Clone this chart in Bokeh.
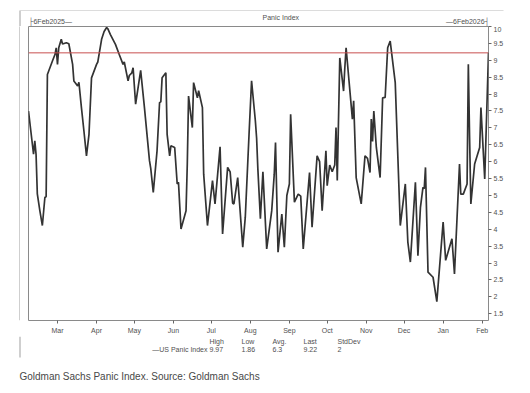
import pandas as pd
from bokeh.plotting import figure
from bokeh.layouts import column, row
from bokeh.models import (Range1d, Span, Label, FixedTicker, DatetimeTickFormatter,
                          CustomJSTickFormatter, BoxAnnotation, ColumnDataSource)
from bokeh.embed import file_html
from bokeh.resources import INLINE

# ---------------- data ----------------
dates = [
    "2025-02-06", "2025-02-10", "2025-02-11", "2025-02-12", "2025-02-13", "2025-02-15",
    "2025-02-17", "2025-02-19", "2025-02-20", "2025-02-21", "2025-02-25", "2025-02-27",
    "2025-02-28", "2025-03-01", "2025-03-02", "2025-03-04", "2025-03-05", "2025-03-08",
    "2025-03-10", "2025-03-13", "2025-03-14", "2025-03-17", "2025-03-18", "2025-03-20",
    "2025-03-22", "2025-03-24", "2025-03-26", "2025-03-28", "2025-04-01", "2025-04-02",
    "2025-04-05", "2025-04-07", "2025-04-09", "2025-04-10", "2025-04-12", "2025-04-16",
    "2025-04-19", "2025-04-22", "2025-04-23", "2025-04-26", "2025-04-27", "2025-04-29",
    "2025-04-30", "2025-05-02", "2025-05-06", "2025-05-09", "2025-05-13", "2025-05-14",
    "2025-05-16", "2025-05-19", "2025-05-21", "2025-05-22", "2025-05-23", "2025-05-26",
    "2025-05-27", "2025-05-29", "2025-05-30", "2025-06-02", "2025-06-04", "2025-06-05",
    "2025-06-07", "2025-06-11", "2025-06-12", "2025-06-13", "2025-06-16", "2025-06-17",
    "2025-06-20", "2025-06-21", "2025-06-24", "2025-06-25", "2025-06-28", "2025-07-02",
    "2025-07-04", "2025-07-08", "2025-07-10", "2025-07-14", "2025-07-16", "2025-07-18",
    "2025-07-19", "2025-07-22", "2025-07-26", "2025-07-28", "2025-07-31", "2025-08-02",
    "2025-08-05", "2025-08-06", "2025-08-07", "2025-08-09", "2025-08-11", "2025-08-14",
    "2025-08-18", "2025-08-20", "2025-08-21", "2025-08-23", "2025-08-26", "2025-08-28",
    "2025-08-30", "2025-09-01", "2025-09-02", "2025-09-05", "2025-09-08", "2025-09-10",
    "2025-09-12", "2025-09-17", "2025-09-19", "2025-09-23", "2025-09-25", "2025-09-27",
    "2025-09-30", "2025-10-01", "2025-10-03", "2025-10-05", "2025-10-07", "2025-10-08",
    "2025-10-09", "2025-10-11", "2025-10-14", "2025-10-15", "2025-10-16", "2025-10-21",
    "2025-10-22", "2025-10-24", "2025-10-28", "2025-10-31", "2025-11-02", "2025-11-04",
    "2025-11-05", "2025-11-06", "2025-11-07", "2025-11-09", "2025-11-12", "2025-11-14",
    "2025-11-16", "2025-11-18", "2025-11-20", "2025-11-24", "2025-11-28", "2025-12-02",
    "2025-12-04", "2025-12-06", "2025-12-10", "2025-12-12", "2025-12-14", "2025-12-16",
    "2025-12-17", "2025-12-18", "2025-12-20", "2025-12-24", "2025-12-27", "2026-01-01",
    "2026-01-03", "2026-01-08", "2026-01-10", "2026-01-14", "2026-01-15", "2026-01-17",
    "2026-01-20", "2026-01-21", "2026-01-22", "2026-01-23", "2026-01-26", "2026-01-30",
    "2026-01-31", "2026-02-03", "2026-02-06",
]
panic_index = [
    7.50, 6.22, 6.62, 6.22, 5.05, 4.55,
    4.11, 4.94, 4.97, 8.58, 8.98, 9.17,
    9.37, 8.88, 9.37, 9.62, 9.48, 9.52,
    9.49, 8.88, 8.39, 8.24, 8.35, 7.60,
    6.90, 6.17, 6.81, 8.48, 8.88, 8.95,
    9.62, 9.85, 9.97, 9.93, 9.76, 9.47,
    9.17, 8.88, 8.95, 8.39, 8.55, 8.63,
    8.78, 7.70, 8.70, 7.60, 6.03, 5.80,
    5.09, 6.32, 7.75, 7.77, 8.48, 8.63,
    6.81, 6.17, 6.47, 6.42, 5.34, 5.39,
    4.01, 4.55, 5.93, 7.94, 7.01, 8.34,
    7.89, 8.10, 7.60, 5.63, 4.11, 5.44,
    4.75, 6.44, 3.86, 5.83, 5.70, 4.77,
    4.75, 5.53, 3.47, 4.35, 6.81, 8.39,
    7.21, 6.70, 5.78, 4.31, 5.70, 3.42,
    4.55, 5.63, 6.57, 3.32, 4.45, 3.47,
    5.00, 5.34, 7.40, 4.80, 5.04, 4.98,
    3.42, 5.68, 4.06, 6.17, 6.00, 4.55,
    6.32, 5.29, 5.90, 5.70, 5.90, 7.01,
    5.44, 9.07, 8.09, 8.78, 9.37, 7.26,
    7.80, 5.53, 4.75, 6.17, 6.10, 5.68,
    7.26, 6.60, 7.50, 6.42, 5.53, 7.89,
    7.90, 9.37, 9.57, 8.34, 4.11, 5.34,
    3.62, 3.03, 5.39, 3.22, 4.65, 5.24,
    5.20, 5.83, 2.73, 2.58, 1.86, 4.21,
    3.08, 3.72, 2.68, 5.93, 5.04, 5.04,
    5.34, 8.88, 6.71, 4.75, 5.93, 6.42,
    7.60, 5.49, 9.22,
]
month_ticks = ["2025-03-01", "2025-04-01", "2025-05-01", "2025-06-01", "2025-07-01",
               "2025-08-01", "2025-09-01", "2025-10-01", "2025-11-01", "2025-12-01",
               "2026-01-01", "2026-02-01"]
y_ticks = [1.5, 2, 2.5, 3, 3.5, 4, 4.5, 5, 5.5, 6, 6.5, 7, 7.5, 8, 8.5, 9, 9.5, 10]
start_date, end_date = "2025-02-06", "2026-02-06"
start_label, end_label = "6Feb2025", "6Feb2026"
title_text = "Panic Index"
series_name = "US Panic Index"
stat_names = ["High", "Low", "Avg.", "Last", "StdDev"]
stat_values = ["9.97", "1.86", "6.3", "9.22", "2"]
last_value = 9.22
caption = "Goldman Sachs Panic Index. Source: Goldman Sachs"

# ---------------- styling ----------------
FONT = "Liberation Sans"
TXT = "#505050"
W = 530
TOP_H, MAIN_H, BOT_H = 26, 310, 57
EDGE = "#a0a0a0"


def blank(width, height):
    f = figure(width=width, height=height, output_backend="svg", toolbar_location=None,
               x_axis_location=None, y_axis_location=None,
               x_range=Range1d(0, width), y_range=Range1d(0, height),
               min_border=0, min_border_left=0, min_border_right=0,
               min_border_top=0, min_border_bottom=0)
    f.outline_line_color = None
    f.grid.visible = False
    f.background_fill_color = "white"
    f.border_fill_color = "white"
    return f


def lab(f, text, x, sy, size="7px", align="left", color=TXT):
    f.add_layout(Label(x=x, y=sy, x_units="screen", y_units="screen", text=text,
                       text_font=FONT, text_font_size=size, text_color=color,
                       text_align=align, text_baseline="middle"))


def rect(f, l, r, b, t, color):
    f.add_layout(BoxAnnotation(left=l, right=r, bottom=b, top=t,
                               left_units="screen", right_units="screen",
                               top_units="screen", bottom_units="screen",
                               fill_color=color, fill_alpha=1, line_color=None))


# ---------------- header strip ----------------
top = blank(W, TOP_H)
rect(top, 20, 503, 15.5, 16.5, "#dcdcdc")
rect(top, 19, 20, 0, 16, EDGE)
lab(top, title_text, 262, 9)
lab(top, "\u251c" + start_label + "\u2014", 28, 5)
lab(top, "\u2014" + end_label + "\u2524", 489, 5, align="right")

# ---------------- left edge strip ----------------
left = blank(20, MAIN_H)
rect(left, 19, 20, 0, MAIN_H, EDGE)

# ---------------- main chart ----------------
t = pd.to_datetime(dates)
src = ColumnDataSource(dict(t=t, v=panic_index))

p = figure(width=W - 20, height=MAIN_H, output_backend="svg", toolbar_location=None,
           x_axis_type="datetime", y_axis_location="right",
           x_range=Range1d(pd.Timestamp(start_date), pd.Timestamp(end_date)),
           y_range=Range1d(1.3, 10.0),
           min_border_left=8, min_border_right=42, min_border_top=0, min_border_bottom=16)
p.background_fill_color = "white"
p.border_fill_color = "white"
p.outline_line_color = "#8a8a8a"
p.outline_line_width = 1
p.grid.visible = False

p.line("t", "v", source=src, line_color="#333333", line_width=1.7)
p.add_layout(Span(location=last_value, dimension="width", line_color="#c85050", line_width=1))

xa = p.xaxis[0]
xa.ticker = FixedTicker(ticks=[pd.Timestamp(d).value / 1e6 for d in month_ticks])
xa.formatter = DatetimeTickFormatter(months="%b", days="%b", years="%b")
xa.axis_line_color = None
xa.major_tick_in = 0
xa.major_tick_out = 3
xa.major_tick_line_color = "#666666"
xa.minor_tick_line_color = None
xa.major_label_text_font = FONT
xa.major_label_text_font_size = "7px"
xa.major_label_text_color = TXT
xa.major_label_standoff = 3

ya = p.yaxis[0]
ya.ticker = FixedTicker(ticks=y_ticks)
ya.formatter = CustomJSTickFormatter(code="return String(tick);")
ya.axis_line_color = None
ya.major_tick_in = 0
ya.major_tick_out = 3
ya.major_tick_line_color = "#666666"
ya.minor_tick_line_color = None
ya.major_label_text_font = FONT
ya.major_label_text_font_size = "7px"
ya.major_label_text_color = TXT
ya.major_label_standoff = 2

# ---------------- footer strip (canvas y 336..393) ----------------
bot = blank(W, BOT_H)
rect(bot, 19, 20, BOT_H - 21, BOT_H, EDGE)
stat_x = [209, 241, 272, 303, 337]
for name, val, sx in zip(stat_names, stat_values, stat_x):
    lab(bot, name, sx, BOT_H - 4.7)
    lab(bot, val, sx, BOT_H - 13)
lab(bot, "\u2014" + series_name, 207, BOT_H - 13, align="right")
lab(bot, caption, 19, BOT_H - 40, size="10px", color="#484848")

layout = column(top, row(left, p, spacing=0), bot, spacing=0)
open("out.html", "w").write(file_html(layout, INLINE))
